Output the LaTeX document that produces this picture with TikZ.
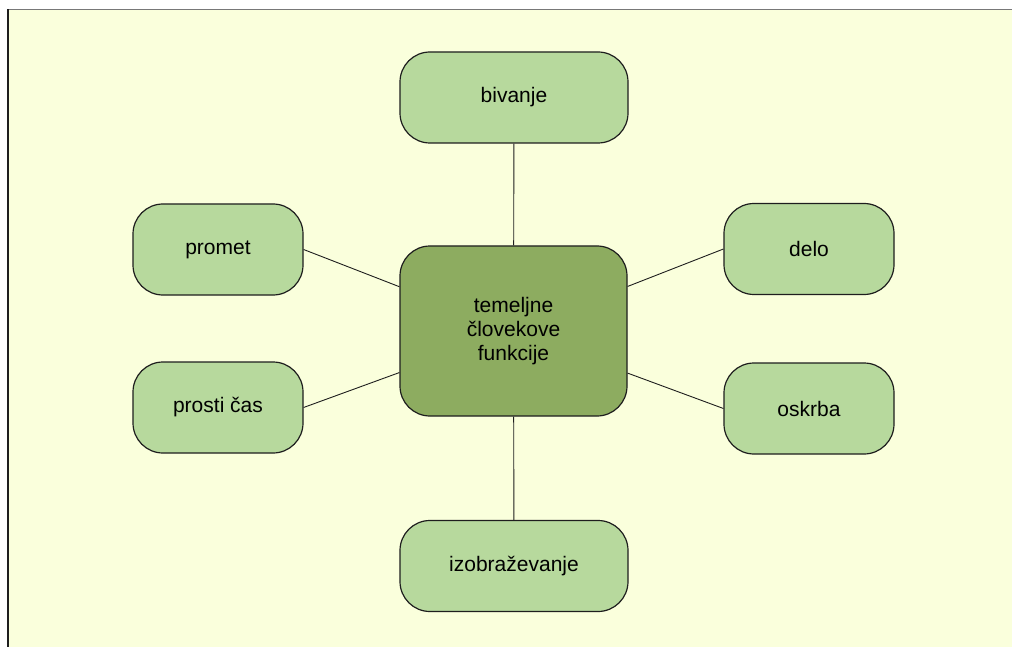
\documentclass[tikz,border=0pt]{standalone}
\usepackage{fontspec}
\setmainfont{Liberation Sans}
\definecolor{bgyellow}{RGB}{250,255,220}
\definecolor{leafgreen}{RGB}{183,217,157}
\definecolor{coregreen}{RGB}{141,172,96}
\definecolor{framegrey}{RGB}{120,120,120}
\definecolor{inkdark}{RGB}{30,30,30}
\begin{document}
\begin{tikzpicture}[x=1pt,y=-1pt,
  leafbox/.style={draw=inkdark, line width=1.2pt, fill=leafgreen, rounded corners=30pt,
    minimum width=170pt, minimum height=91pt, inner sep=0pt, align=center,
    font=\fontsize{21}{24}\selectfont},
  widebox/.style={leafbox, minimum width=228pt},
  corebox/.style={leafbox, fill=coregreen, minimum width=227pt, minimum height=170pt},
  link/.style={draw=inkdark, line width=0.9pt}]
\useasboundingbox (0,0) rectangle (1012,647);
\fill[white] (0,0) rectangle (1012,647);
\fill[bgyellow] (8,9.5) rectangle (1012,647);
\draw[framegrey, line width=1.8pt] (8,9.5) -- (1012,9.5);
\draw[inkdark, line width=1.5pt] (8,9.5) -- (8,647);

\node[corebox] (core) at (513.5,331) {temeljne\\človekove\\funkcije};
\node[widebox] (bivanje) at (514,97.5) {bivanje};
\node[widebox] (izob) at (514,566) {izobraževanje};
\node[leafbox] (promet) at (218,249.5) {promet};
\node[leafbox] (prosti) at (218,407.5) {prosti čas};
\node[leafbox] (delo) at (809,249) {delo};
\node[leafbox] (oskrba) at (809,408.5) {oskrba};

\draw[link] (bivanje) -- (core);
\draw[link] (izob) -- (core);
\draw[link] (promet.east) -- (core);
\draw[link] (prosti.east) -- (core);
\draw[link] (delo.west) -- (core);
\draw[link] (oskrba.west) -- (core);
\end{tikzpicture}
\end{document}
